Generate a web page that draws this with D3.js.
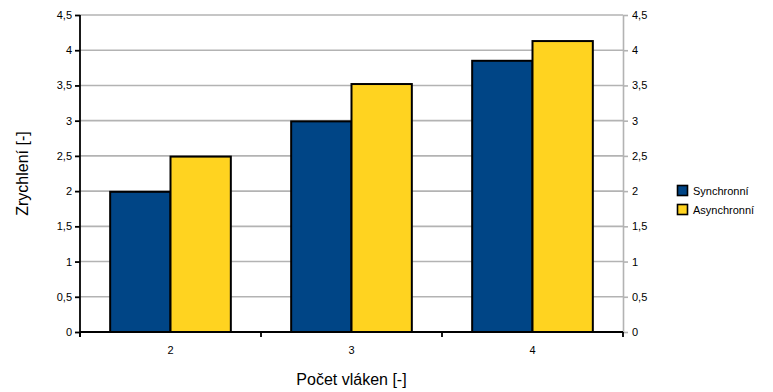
<!DOCTYPE html>
<html><head><meta charset="utf-8">
<script src="https://cdn.jsdelivr.net/npm/d3@7"></script>
<style>body{margin:0;background:#fff;} svg{display:block;font-family:"Liberation Sans",Arial,sans-serif;}</style>
</head><body>
<svg id="c" width="773" height="392"></svg>
<script>
const categories = ["2", "3", "4"];
const seriesNames = ["Synchronní", "Asynchronní"];
const synchronni = [1.99, 2.99, 3.85];
const asynchronni = [2.49, 3.52, 4.13];
const yTicks = [0, 0.5, 1, 1.5, 2, 2.5, 3, 3.5, 4, 4.5];
const colors = ["#004586", "#ffd320"];
const xTitle = "Počet vláken [-]";
const yTitle = "Zrychlení [-]";

const svg = d3.select("#c");
const L = 80, R = 623, T = 15, B = 332;
const x = d3.scaleBand().domain(categories).range([L, R]).paddingInner(0).paddingOuter(0);
const xs = d3.scaleBand().domain(seriesNames).range([0, x.bandwidth()]).paddingInner(0).paddingOuter(0.5);
const y = d3.scaleLinear().domain([0, 4.5]).range([B, T]);
const fmt = d => String(d).replace(".", ",");

// grid
svg.append("g").selectAll("line").data(yTicks.filter(d => d > 0)).join("line")
  .attr("x1", L).attr("x2", R).attr("y1", d => y(d)).attr("y2", d => y(d))
  .attr("stroke", "#b3b3b3").attr("stroke-width", 1.6);

// right axis (gray)
const ra = svg.append("g").attr("transform", `translate(${R},0)`)
  .call(d3.axisRight(y).tickValues(yTicks).tickFormat(fmt).tickSizeInner(5).tickSizeOuter(0).tickPadding(4));
ra.select(".domain").attr("stroke", "#b3b3b3").attr("stroke-width", 1.6);
ra.selectAll(".tick line").attr("stroke", "#b3b3b3").attr("stroke-width", 1.6);
ra.selectAll("text").attr("font-size", 11).attr("fill", "#000").attr("font-family", "Liberation Sans, Arial, sans-serif");

// bars
const data = categories.map((c, i) => ({c, vals: [synchronni[i], asynchronni[i]]}));
const g = svg.append("g");
data.forEach(d => {
  d.vals.forEach((v, j) => {
    g.append("rect")
      .attr("x", x(d.c) + xs(seriesNames[j]))
      .attr("y", y(v))
      .attr("width", xs.bandwidth())
      .attr("height", y(0) - y(v))
      .attr("fill", colors[j]).attr("stroke", "#000").attr("stroke-width", 2);
  });
});

// left axis
const la = svg.append("g").attr("transform", `translate(${L},0)`)
  .call(d3.axisLeft(y).tickValues(yTicks).tickFormat(fmt).tickSizeInner(5).tickSizeOuter(0).tickPadding(3));
la.select(".domain").attr("stroke", "#000").attr("stroke-width", 1.8).attr("d", `M0,${T}V${B + 5}`);
la.selectAll(".tick line").attr("stroke", "#000").attr("stroke-width", 1.8);
la.selectAll("text").attr("font-size", 11).attr("fill", "#000").attr("font-family", "Liberation Sans, Arial, sans-serif");

// bottom axis
const ba = svg.append("g").attr("transform", `translate(0,${B})`)
  .call(d3.axisBottom(x).tickSize(0).tickPadding(14));
ba.select(".domain").attr("stroke", "#000").attr("stroke-width", 1.8).attr("d", `M${L},0H${R}`);
ba.selectAll("text").attr("font-size", 11).attr("fill", "#000").attr("font-family", "Liberation Sans, Arial, sans-serif");
const bounds = categories.map(c => x(c)).concat([R]);
svg.append("g").selectAll("line").data(bounds).join("line")
  .attr("x1", d => d).attr("x2", d => d).attr("y1", B).attr("y2", B + 5)
  .attr("stroke", "#000").attr("stroke-width", 1.8);

// titles
svg.append("text").attr("x", (L + R) / 2).attr("y", 385).attr("text-anchor", "middle")
  .attr("font-size", 16).attr("fill", "#000").text(xTitle);
svg.append("text").attr("transform", `translate(28,${(T + B) / 2}) rotate(-90)`).attr("text-anchor", "middle")
  .attr("font-size", 16).attr("fill", "#000").text(yTitle);

// legend
const lg = svg.append("g").attr("transform", "translate(677,185)");
seriesNames.forEach((n, i) => {
  lg.append("rect").attr("x", 0.5).attr("y", i * 19 + 0.5).attr("width", 10).attr("height", 10)
    .attr("fill", colors[i]).attr("stroke", "#000").attr("stroke-width", 1.6);
  lg.append("text").attr("x", 16).attr("y", i * 19 + 10).attr("font-size", 11).attr("fill", "#000").text(n);
});
</script>
</body></html>
